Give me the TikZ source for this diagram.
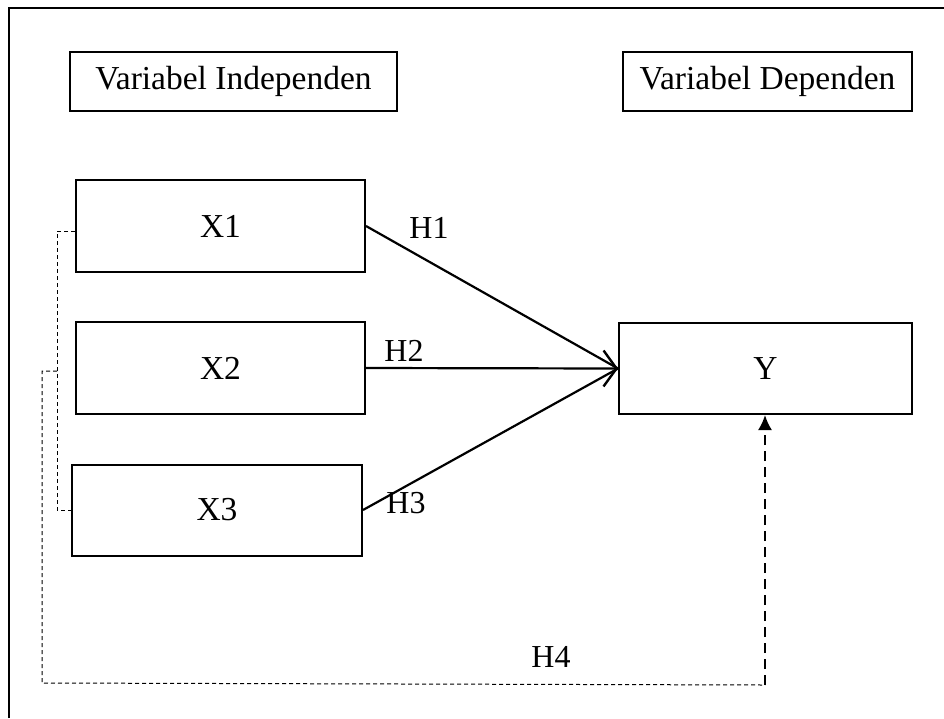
\documentclass[tikz,border=0pt]{standalone}
\usepackage{fontspec}
\setmainfont{Liberation Serif}
\usetikzlibrary{arrows.meta}
\begin{document}
\begin{tikzpicture}[x=1pt,y=-1pt,
  titlebox/.style={draw,line width=1.4pt,minimum height=59pt,inner sep=0pt,font=\fontsize{33.5}{38}\selectfont},
  varbox/.style={draw,line width=2pt,minimum height=91pt,inner sep=0pt,font=\fontsize{33.5}{38}\selectfont},
  hlabel/.style={inner sep=0pt,font=\fontsize{32}{36}\selectfont},
  pathline/.style={line width=2.2pt},
  thindash/.style={line width=1pt,dash pattern=on 4pt off 3pt},
  thickdash/.style={line width=2pt,dash pattern=on 10pt off 6pt}]
\useasboundingbox (0,0) rectangle (944,718);
% outer frame (cropped on right and bottom)
\draw[line width=2pt] (9,718) -- (9,8) -- (944,8);
% title boxes
\node[titlebox,minimum width=327pt] (vi) at (233.5,81.5) {Variabel Independen};
\node[titlebox,minimum width=289pt] (vd) at (767.5,81.5) {Variabel Dependen};
% variable boxes
\node[varbox,minimum width=289pt,minimum height=92pt] (x1) at (220.5,226) {X1};
\node[varbox,minimum width=289pt,minimum height=92pt] (x2) at (220.5,368) {X2};
\node[varbox,minimum width=290pt] (x3) at (217,510) {X3};
\node[varbox,minimum width=293pt] (y) at (765.5,368.5) {Y};
% hypothesis paths
\draw[pathline] (x1.east) -- (y.west);
\draw[pathline,-{Straight Barb[length=13pt,width=36pt,line width=2.4pt]}] (x2.east) -- (y.west);
\draw[pathline] (x3.east) -- (y.west);
\node[hlabel] (h1) at (429,228) {H1};
\node[hlabel] (h2) at (404,351) {H2};
\node[hlabel] (h3) at (406,503) {H3};
\node[hlabel] (h4) at (551,657) {H4};
% dashed simultaneous path
\coordinate (bt) at (57,231);
\coordinate (bm) at (57,371);
\coordinate (bb) at (57,510);
\coordinate (ol) at (42,371);
\coordinate (olb) at (42,683);
\coordinate (orb) at (765,685);
\draw[thindash] (x1.west |- bt) -- (bt) -- (bb) -- (x3.west |- bb);
\draw[thindash] (bm) -- (ol) -- (olb) -- (orb);
\draw[thickdash,-{Latex[length=15pt,width=14pt]}] (orb) -- (orb |- y.south);
\end{tikzpicture}
\end{document}
